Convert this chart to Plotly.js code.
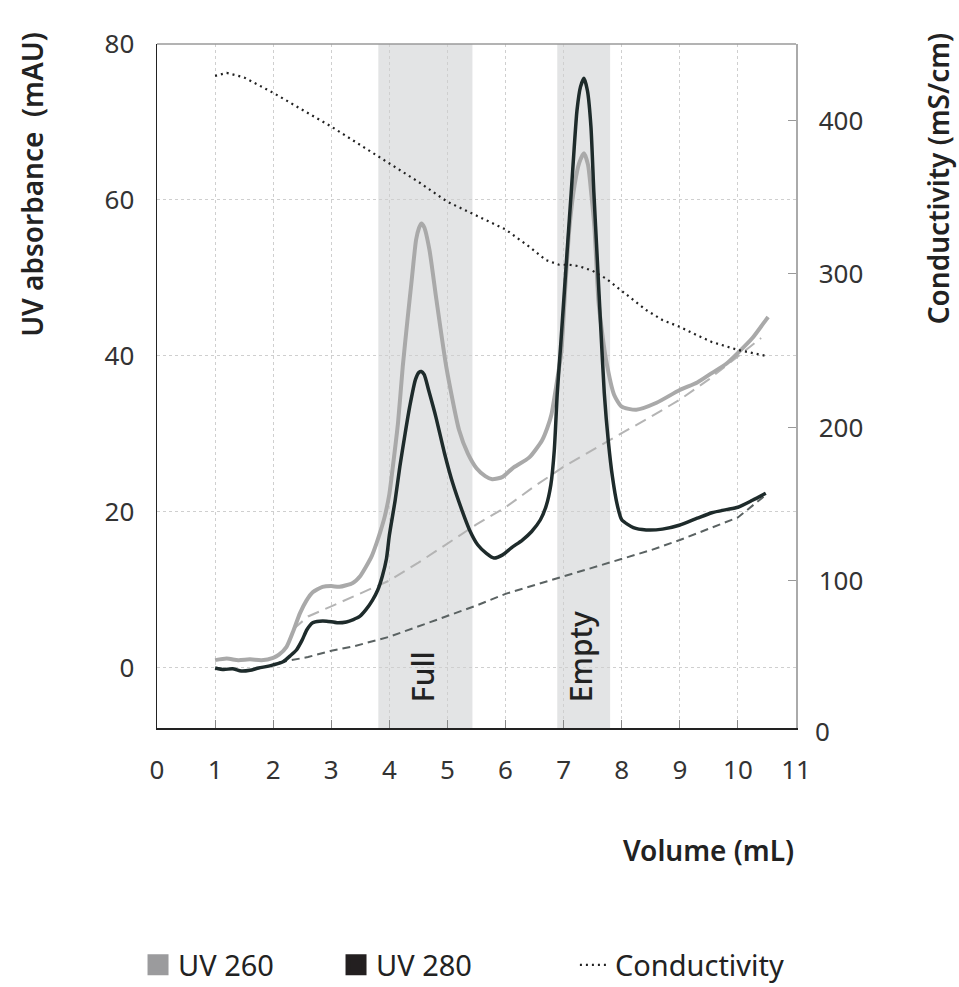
<!DOCTYPE html>
<html><head><meta charset="utf-8">
<script src="https://cdn.plot.ly/plotly-3.0.1.min.js"></script>
<style>body{margin:0;background:#fff}</style>
</head><body><div id="chart" style="width:959px;height:987px"></div>
<script>
// UV 260 trace (mAU)
const uv260X = [1.0,1.2,1.4,1.6,1.8,2.0,2.1,2.23,2.35,2.46,2.57,2.68,2.85,3.0,3.14,3.37,3.5,3.6,3.7,3.78,3.85,3.92,4.0,4.06,4.15,4.23,4.31,4.38,4.46,4.51,4.55,4.6,4.69,4.81,4.98,5.2,5.35,5.5,5.65,5.77,5.95,6.12,6.41,6.63,6.72,6.79,6.88,6.96,7.03,7.1,7.19,7.27,7.35,7.42,7.48,7.53,7.6,7.65,7.73,7.87,8.0,8.25,8.6,8.99,9.3,9.55,9.8,10.0,10.25,10.48,10.52];
const uv260Y = [1.0,1.2,1.0,1.1,1.0,1.3,1.7,2.7,4.8,7.0,8.6,9.7,10.4,10.5,10.4,10.9,11.8,13.0,14.4,16.0,17.6,19.4,22.3,25.8,31.5,38.6,44.5,49.4,54.9,56.4,57.0,56.5,53.6,47.2,38.6,30.5,27.5,25.6,24.6,24.2,24.5,25.6,27.0,29.2,30.8,32.5,36.5,40.5,49.0,56.5,62.0,64.8,66.0,64.5,60.5,56.5,47.0,43.7,39.5,35.0,33.5,33.1,34.0,35.6,36.6,37.8,39.0,40.4,42.3,44.6,45.0];
// UV 280 trace (mAU)
const uv280X = [1.0,1.15,1.3,1.45,1.6,1.75,1.9,2.0,2.17,2.3,2.4,2.5,2.58,2.68,2.8,2.92,3.1,3.26,3.38,3.49,3.6,3.71,3.8,3.88,3.95,4.0,4.1,4.18,4.27,4.35,4.45,4.51,4.55,4.6,4.68,4.8,4.95,5.09,5.25,5.38,5.52,5.67,5.8,5.95,6.1,6.29,6.45,6.6,6.7,6.78,6.84,6.89,6.95,7.01,7.07,7.13,7.18,7.23,7.29,7.35,7.41,7.47,7.52,7.58,7.64,7.7,7.77,7.84,7.92,8.0,8.2,8.42,8.7,8.99,9.3,9.55,9.8,10.0,10.25,10.48];
const uv280Y = [0.0,-0.2,-0.1,-0.4,-0.3,0.0,0.2,0.4,0.8,1.6,2.3,3.6,4.9,5.8,6.0,6.0,5.8,5.9,6.2,6.6,7.5,8.7,10.0,11.8,14.0,17.0,21.5,25.8,30.0,33.5,37.0,37.9,38.0,37.6,35.5,32.2,27.5,23.7,20.2,17.7,15.8,14.7,14.1,14.5,15.4,16.4,17.5,19.0,20.8,23.5,28.0,35.2,41.5,48.0,54.5,60.9,66.5,71.5,74.5,75.6,74.0,69.4,61.0,52.3,43.5,35.2,29.0,24.5,21.0,19.0,18.0,17.7,17.8,18.3,19.2,19.9,20.3,20.6,21.5,22.4];
// Baselines (dashed)
const baseLightX = [2.35,2.6,3.0,3.5,4.0,4.5,5.0,5.5,6.0,6.5,7.0,7.5,8.0,8.5,9.0,9.5,10.0,10.4];
const baseLightY = [5.0,6.6,7.9,9.5,11.2,13.5,16.0,18.4,20.6,23.3,25.8,28.0,30.1,32.2,34.4,37.0,39.9,42.3];
const baseDarkX = [2.1,2.6,3.0,3.4,4.0,4.5,5.0,5.5,6.0,6.5,7.0,7.5,8.0,8.5,9.0,9.5,10.0,10.45];
const baseDarkY = [0.7,1.4,2.2,2.8,4.0,5.3,6.6,8.0,9.5,10.6,11.7,12.8,13.9,15.1,16.4,17.8,19.3,22.0];
// Conductivity (mS/cm)
const condX = [1.0,1.2,1.5,2.0,2.5,3.0,3.5,4.0,4.5,5.0,5.5,6.0,6.4,6.7,6.92,7.1,7.27,7.5,7.73,8.0,8.42,8.7,9.0,9.3,9.55,10.0,10.5];
const condY = [429,431,428,418,407,396,384,372,360,347,338,329,318,309,306,306,305,302,297,289,276.5,270,265.5,260,255.7,250.5,246.5];
// Fractions
const bandNames = ["Full","Empty"];
const bandStart = [3.81,6.89];
const bandEnd = [5.43,7.80];
const bandLabelX = [4.56,7.28];
// Ticks
const xTicks = [0,1,2,3,4,5,6,7,8,9,10,11];
const yTicks = [0,20,40,60,80];
const y2Ticks = [100,200,300,400];

const FONT = "Noto Sans, sans-serif";
const traces = [
  {x: baseLightX, y: baseLightY, mode:'lines', line:{color:'#b4b4b4', width:2, dash:'12px,7px'}, showlegend:false, hoverinfo:'skip'},
  {x: baseDarkX, y: baseDarkY, mode:'lines', line:{color:'#5a6262', width:2, dash:'8px,5px'}, showlegend:false, hoverinfo:'skip'},
  {x: uv260X, y: uv260Y, mode:'lines', line:{color:'#a9a9a9', width:4, shape:'spline', smoothing:0.6}, showlegend:false},
  {x: uv280X, y: uv280Y, mode:'lines', line:{color:'#1e2b2b', width:3.5, shape:'spline', smoothing:0.6}, showlegend:false},
  {x:[null], y:[null], mode:'markers', marker:{symbol:'square', size:16, color:'#9b9b9d', line:{color:'#9b9b9d', width:5}}, name:'UV 260', legend:'legend'},
  {x:[null], y:[null], mode:'markers', marker:{symbol:'square', size:16, color:'#231f20', line:{color:'#231f20', width:5}}, name:'UV 280', legend:'legend'},
  {x: condX, y: condY, yaxis:'y2', mode:'lines', line:{color:'#222', width:2.2, dash:'2px,4px'}, name:'Conductivity', legend:'legend2'}
];

const shapes = bandNames.map((n,i)=>({type:'rect', xref:'x', yref:'paper', x0:bandStart[i], x1:bandEnd[i], y0:0, y1:1, fillcolor:'#e3e4e5', line:{width:0}, layer:'below'}));
shapes.push({type:'line', xref:'paper', yref:'paper', x0:0, x1:1, y0:1, y1:1, line:{color:'#9a9a9a', width:1.5}});

const annotations = bandNames.map((n,i)=>({text:n, x:bandLabelX[i], y:-4.6, xref:'x', yref:'y', textangle:-90, xanchor:'center', yanchor:'bottom', showarrow:false, font:{family:FONT, size:30, color:'#222', weight:500}}));
annotations.push(
  {text:'UV absorbance  (mAU)', xref:'paper', yref:'paper', x:0, xshift:-125, y:1.02, yanchor:'top', xanchor:'center', textangle:-90, showarrow:false, font:{family:FONT, size:28, color:'#222', weight:600}},
  {text:'Conductivity (mS/cm)', xref:'paper', yref:'paper', x:1, xshift:142, y:1.02, yanchor:'top', xanchor:'center', textangle:-90, showarrow:false, font:{family:FONT, size:28, color:'#222', weight:600}},
  {text:'Volume (mL)', xref:'paper', yref:'paper', x:1, y:-0.178, xanchor:'right', yanchor:'middle', showarrow:false, font:{family:FONT, size:28, color:'#222', weight:600}},
  {text:'0', xref:'paper', yref:'paper', x:1, xshift:17, y:-0.004, xanchor:'left', yanchor:'middle', showarrow:false, font:{family:FONT, size:26, color:'#333'}}
);

const legendCommon = {orientation:'h', yanchor:'middle', y:-0.3465, xanchor:'left', font:{family:FONT, size:29, color:'#222'}, bgcolor:'rgba(0,0,0,0)'};
const layout = {
  width:959, height:987,
  margin:{l:157, r:163, t:44, b:259, autoexpand:false},
  paper_bgcolor:'#fff', plot_bgcolor:'#fff',
  font:{family:FONT, color:'#333'},
  xaxis:{range:[0,11], tickvals:xTicks, ticktext:xTicks.map(String), ticks:'inside', ticklen:8, tickcolor:'#888', showline:true, linecolor:'#222', linewidth:1.5,
    showgrid:true, gridcolor:'#cfcfcf', griddash:'dot', gridwidth:1, zeroline:false, tickfont:{size:26, color:'#333'}, ticklabelstandoff:18},
  yaxis:{range:[-7.7,80], tickvals:yTicks, ticks:'', showline:true, linecolor:'#222', linewidth:1.5,
    showgrid:true, gridcolor:'#cfcfcf', griddash:'dot', gridwidth:1, zeroline:false, tickfont:{size:26, color:'#333'}, ticklabelstandoff:16},
  yaxis2:{range:[4.2,449.8], overlaying:'y', side:'right', tickvals:y2Ticks, ticks:'inside', ticklen:8, tickcolor:'#999', showline:true, linecolor:'#aaa', linewidth:1.5,
    showgrid:false, zeroline:false, tickfont:{size:26, color:'#333'}, ticklabelstandoff:16},
  legend: Object.assign({}, legendCommon, {x:-0.0297, entrywidth:153, entrywidthmode:'pixels'}),
  legend2: Object.assign({}, legendCommon, {x:0.654}),
  shapes:shapes, annotations:annotations, showlegend:true
};
Plotly.newPlot('chart', traces, layout, {displayModeBar:false, staticPlot:true});
</script></body></html>
